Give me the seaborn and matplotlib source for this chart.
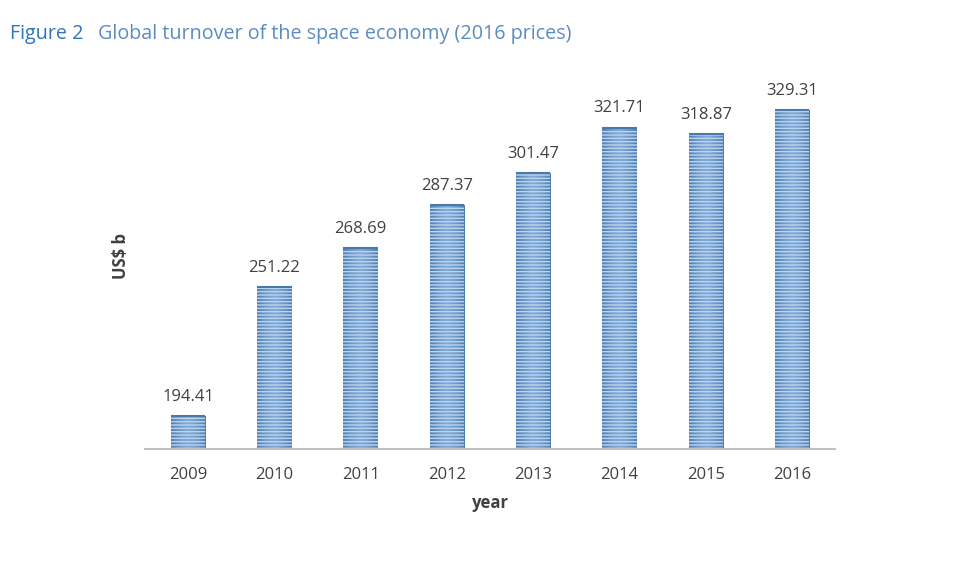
import matplotlib
matplotlib.use("Agg")
import matplotlib.pyplot as plt
import matplotlib.colors as mcolors
import seaborn as sns
import pandas as pd
import numpy as np

# Data
years = ["2009", "2010", "2011", "2012", "2013", "2014", "2015", "2016"]
turnover = [194.41, 251.22, 268.69, 287.37, 301.47, 321.71, 318.87, 329.31]

df = pd.DataFrame({"year": years, "US$ b": turnover})

sns.set_style("white")
plt.rcParams['font.family'] = ['Open Sans', 'DejaVu Sans']
plt.rcParams['hatch.linewidth'] = 1.0

fig = plt.figure(figsize=(9.6, 5.63), dpi=100)
ax = fig.add_axes([0.151, 0.2025, 0.719, 0.685])

sns.barplot(x="year", y="US$ b", data=df, color="#6f9fd3", width=0.4,
            saturation=1, ax=ax)

# horizontal shading across each bar: darker at the sides
edge_rgb = np.array(mcolors.to_rgb("#4f7db4"))
mid_rgb = np.array(mcolors.to_rgb("#7fa9da"))
t = np.abs(np.linspace(-1, 1, 40)) ** 1.5
grad = (mid_rgb[None, :] * (1 - t[:, None]) + edge_rgb[None, :] * t[:, None])[None, :, :]

for p in ax.patches:
    x0, y0 = p.get_x(), p.get_y()
    w, h = p.get_width(), p.get_height()
    ax.imshow(grad, extent=[x0, x0 + w, y0, y0 + h], aspect="auto",
              interpolation="bilinear", zorder=1)
    p.set_facecolor("none")
    p.set_hatch("-----")
    p.set_edgecolor("#bcd3ec")
    p.set_linewidth(0)
    p.set_zorder(2)
    ax.plot([x0, x0 + w], [y0 + h, y0 + h], color="#4a78ad", lw=1.5, zorder=4,
            solid_capstyle="butt")

for i, v in enumerate(turnover):
    ax.annotate("{:.2f}".format(v), (i, v), xytext=(0, 8),
                textcoords="offset points", ha="center", va="bottom",
                fontsize=12, color="#404040")

ax.set_xlim(-0.5, 7.5)
ax.set_ylim(180, 350)
ax.set_yticks([])
sns.despine(ax=ax, left=True)
ax.spines['bottom'].set_color("#bfbfbf")
ax.spines['bottom'].set_linewidth(1.5)
ax.spines['bottom'].set_zorder(5)
ax.tick_params(axis='x', length=0, pad=13, labelsize=12, labelcolor="#404040")

ax.set_xlabel("year", fontsize=12, fontweight="bold", color="#404040", labelpad=8)
ax.set_ylabel("US$ b", fontsize=12, fontweight="bold", color="#404040", labelpad=11)

fig.text(0.0105, 0.93, "Figure 2", fontsize=14.2, color="#2e77c0", va="baseline")
fig.text(0.102, 0.93, "Global turnover of the space economy (2016 prices)",
         fontsize=14.2, color="#5a8cc2", va="baseline")

plt.savefig("out.png", dpi=100)
